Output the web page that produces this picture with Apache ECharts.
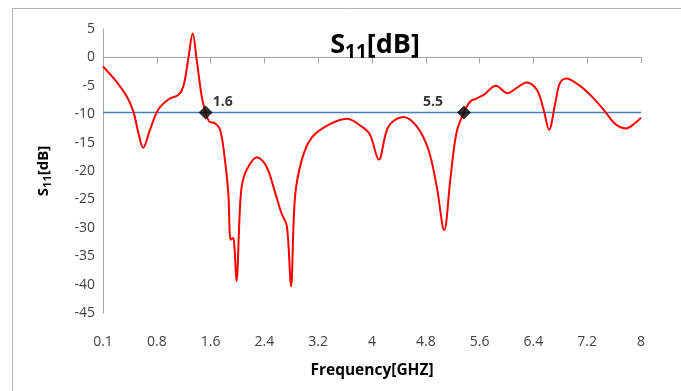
<!DOCTYPE html>
<html>
<head>
<meta charset="utf-8">
<script src="https://cdn.jsdelivr.net/npm/echarts@6/dist/echarts.min.js"></script>
<style>
html,body{margin:0;padding:0;background:#fff;}
#c{width:681px;height:391px;}
</style>
</head>
<body>
<div id="c"></div>
<script>
// Frequency (GHz) and S11 (dB)
const freq = [0.10,0.30,0.45,0.545,0.62,0.69,0.79,0.91,1.06,1.205,1.28,1.35,1.417,1.476,1.55,1.607,1.66,1.745,1.82,1.89,1.94,1.975,2.01,2.03,2.06,2.11,2.14,2.21,2.36,2.50,2.63,2.72,2.80,2.86,2.92,3.02,3.16,3.41,3.68,3.90,4.02,4.15,4.29,4.51,4.71,4.88,5.00,5.11,5.20,5.29,5.40,5.49,5.59,5.69,5.87,6.04,6.17,6.32,6.47,6.57,6.65,6.74,6.81,6.90,7.08,7.28,7.47,7.62,7.78,7.91,8.00];
const s11 = [-1.6,-4.3,-6.9,-9.5,-13.3,-15.9,-12.75,-9.2,-7.4,-6.6,-5.1,-0.45,4.2,-0.45,-6.9,-9.7,-11.3,-11.6,-12.75,-18.0,-23.9,-32.1,-31.8,-33.3,-39.4,-26.8,-22.5,-19.8,-17.6,-19.2,-23.9,-27.4,-29.7,-40.3,-24.5,-18.0,-14.2,-11.9,-10.8,-12.2,-13.6,-18.0,-12.2,-10.5,-12.2,-16.3,-22.7,-30.4,-21.5,-13.3,-9.7,-7.8,-7.2,-6.6,-5.0,-6.3,-5.4,-4.4,-5.7,-9.2,-12.75,-8.1,-4.5,-3.7,-4.8,-6.9,-9.5,-11.7,-12.5,-11.6,-10.6];
const threshold = -9.7;
const markerFreq = [1.607, 5.40];
const markerText = ['1.6', '5.5'];
const xTickLabels = ['0.1','0.8','1.6','2.4','3.2','4','4.8','5.6','6.4','7.2','8'];
const xMin = 0.1, xMax = 8;
const yMin = -45, yMax = 5, yStep = 5;

const xTickPos = xTickLabels.map((_, i) => xMin + i * (xMax - xMin) / (xTickLabels.length - 1));
const font = '"Open Sans", "Liberation Sans", sans-serif';

const chart = echarts.init(document.getElementById('c'), null, {renderer: 'canvas'});
chart.setOption({
  animation: false,
  backgroundColor: '#fff',
  textStyle: {fontFamily: font},
  title: {
    text: '{b|S}{s|11}{b|[dB]}',
    left: 370, top: 23, textAlign: 'center',
    textStyle: {
      rich: {
        b: {fontFamily: font, fontWeight: 'bold', fontSize: 27, color: '#000'},
        s: {fontFamily: font, fontWeight: 'bold', fontSize: 19, color: '#000', padding: [15, 0, 0, 0]}
      }
    }
  },
  graphic: [{
    type: 'rect', silent: true,
    shape: {x: 12.5, y: 8.5, width: 720, height: 420},
    style: {fill: 'none', stroke: '#b3b3b3', lineWidth: 1}
  }],
  grid: {left: 103, right: 40, top: 29, bottom: 78, containLabel: false},
  xAxis: {
    type: 'value', min: xMin, max: xMax,
    name: 'Frequency[GHZ]', nameLocation: 'middle', nameGap: 50,
    nameTextStyle: {fontFamily: font, fontWeight: 'bold', fontSize: 15.5, color: '#000'},
    axisLine: {show: true, lineStyle: {color: '#a6a6a6', width: 1}},
    axisTick: {show: true, length: 6, inside: false, customValues: xTickPos, lineStyle: {color: '#a6a6a6'}},
    axisLabel: {
      customValues: xTickPos, margin: 22, fontSize: 14, color: '#404040', fontFamily: font,
      formatter: v => xTickLabels[Math.round((v - xMin) / ((xMax - xMin) / (xTickLabels.length - 1)))]
    },
    splitLine: {show: false}
  },
  yAxis: {
    type: 'value', min: yMin, max: yMax, interval: yStep,
    name: '{n|S}{sub|11}{n|[dB]}', nameLocation: 'middle', nameGap: 50, nameRotate: 90,
    nameTextStyle: {
      rich: {
        n: {fontFamily: font, fontWeight: 'bold', fontSize: 15, color: '#000'},
        sub: {fontFamily: font, fontWeight: 'bold', fontSize: 11, color: '#000', padding: [7, 0, 0, 0]}
      }
    },
    axisLine: {show: true, lineStyle: {color: '#a6a6a6', width: 1}},
    axisTick: {show: false},
    axisLabel: {margin: 8, fontSize: 14, color: '#404040', fontFamily: font},
    splitLine: {show: false}
  },
  series: [
    {
      type: 'line', data: [[xMin, threshold], [xMax, threshold]],
      symbol: 'none', lineStyle: {color: '#4a7ebb', width: 1.5}, z: 2
    },
    {
      type: 'line', data: freq.map((f, i) => [f, s11[i]]),
      symbol: 'none', smooth: 0.35, lineStyle: {color: '#ff0000', width: 2}, z: 3
    },
    {
      type: 'scatter', symbol: 'diamond', symbolSize: 14,
      itemStyle: {color: '#000'}, z: 5,
      data: markerFreq.map((f, i) => ({
        value: [f, threshold],
        label: {
          show: true, formatter: markerText[i], fontFamily: font, fontWeight: 'bold', fontSize: 14, color: '#000',
          position: i === 0 ? [14, -10] : [-34, -10]
        }
      }))
    }
  ]
});
</script>
</body>
</html>
